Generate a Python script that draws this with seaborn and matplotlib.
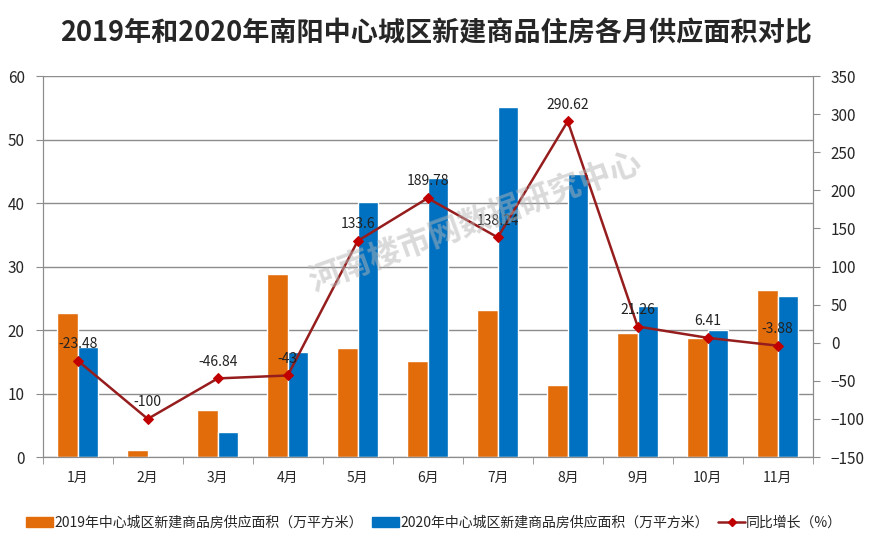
import numpy as np
import pandas as pd
import seaborn as sns
from matplotlib import pyplot as plt
from matplotlib.lines import Line2D
from matplotlib.patches import Patch

months = ["1月", "2月", "3月", "4月", "5月", "6月", "7月", "8月", "9月", "10月", "11月"]
area_2019 = [22.7, 1.1, 7.4, 28.8, 17.2, 15.1, 23.1, 11.3, 19.6, 18.8, 26.3]
area_2020 = [17.4, 0.0, 4.0, 16.5, 40.2, 43.9, 55.2, 44.6, 23.8, 20.0, 25.3]
growth = [-23.48, -100, -46.84, -43, 133.6, 189.78, 138.24, 290.62, 21.26, 6.41, -3.88]
growth_labels = ["-23.48", "-100", "-46.84", "-43", "133.6", "189.78", "138.24", "290.62", "21.26", "6.41", "-3.88"]

name_2019 = "2019年中心城区新建商品房供应面积（万平方米）"
name_2020 = "2020年中心城区新建商品房供应面积（万平方米）"
name_growth = "同比增长（%）"

orange = "#E36C0A"
blue = "#0070C0"
line_color = "#961D1D"
marker_color = "#C00000"

sns.set_style("white")
plt.rcParams["font.family"] = ["Noto Sans CJK SC", "DejaVu Sans"]

df = pd.DataFrame({
    "month": months * 2,
    "value": area_2019 + area_2020,
    "series": [name_2019] * len(months) + [name_2020] * len(months),
})

fig = plt.figure(figsize=(8.72, 5.57), dpi=100)
ax = fig.add_axes([0.049, 0.1795, 0.883, 0.684])

sns.barplot(data=df, x="month", y="value", hue="series", palette=[orange, blue],
            width=0.58, gap=0, saturation=1, ax=ax, legend=False)
ax.set_ylim(0, 60)
ax.set_yticks(range(0, 61, 10))
ax.set_xlim(-0.5, len(months) - 0.5)
ax.set_xlabel("")
ax.set_ylabel("")
ax.yaxis.grid(True, color="#8C8C8C", linewidth=1)
ax.set_axisbelow(True)
ax.tick_params(axis="y", labelsize=11, length=5, color="#8C8C8C", left=True, pad=8)
ax.tick_params(axis="x", labelsize=10, length=0, pad=10)
ax.set_xticks(np.arange(-0.5, len(months)), minor=True)
ax.tick_params(axis="x", which="minor", length=5, color="#8C8C8C", bottom=True)
for side in ["left", "right", "bottom"]:
    ax.spines[side].set_color("#8C8C8C")
ax.spines["top"].set_visible(False)

ax2 = ax.twinx()
sns.lineplot(x=np.arange(len(months)), y=growth, ax=ax2, color=line_color, linewidth=1.8,
             marker="D", markersize=5, markerfacecolor=marker_color, markeredgecolor=marker_color)
ax2.set_ylim(-150, 350)
ax2.set_yticks(range(-150, 351, 50))
ax2.tick_params(axis="y", labelsize=11, length=5, color="#8C8C8C", right=True, pad=8)
for side in ["left", "right", "bottom"]:
    ax2.spines[side].set_color("#8C8C8C")
ax2.spines["top"].set_visible(False)
for i, (g, lab) in enumerate(zip(growth, growth_labels)):
    ax2.annotate(lab, (i, g), xytext=(0, 7), textcoords="offset points",
                 ha="center", va="bottom", fontsize=10, color="#222222")

# watermark
fig.text(0.545, 0.60, "河南楼市网数据研究中心", rotation=20, fontsize=23, fontweight="bold",
         color="#B5B5B5", alpha=0.5, ha="center", va="center")

fig.suptitle("2019年和2020年南阳中心城区新建商品住房各月供应面积对比",
             x=0.5, y=0.965, fontsize=19.5, fontweight="bold")

handles = [
    Patch(facecolor=orange, edgecolor=orange),
    Patch(facecolor=blue, edgecolor=blue),
    Line2D([0], [0], color=line_color, linewidth=1.8, marker="D", markersize=4,
           markerfacecolor=marker_color, markeredgecolor=marker_color),
]
fig.legend(handles, [name_2019, name_2020, name_growth], loc="center", bbox_to_anchor=(0.498, 0.061),
           ncol=3, frameon=False, fontsize=10, handlelength=1.9, handletextpad=0.1, columnspacing=0.7)

fig.savefig("out.png", dpi=100)
